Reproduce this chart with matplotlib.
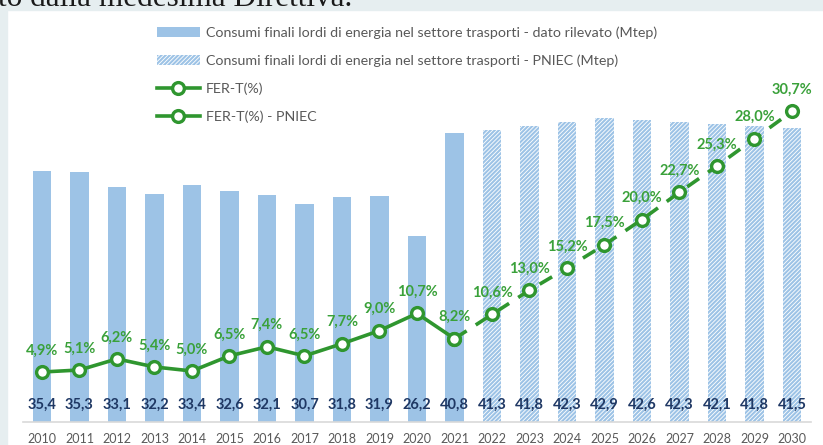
import matplotlib.pyplot as plt
import matplotlib.patches as mpatches
from matplotlib.lines import Line2D
import numpy as np

plt.rcParams['font.family'] = ['Lato', 'DejaVu Sans']
plt.rcParams['hatch.linewidth'] = 1.5

anni = [str(a) for a in range(2010, 2031)]
consumi = [35.4, 35.3, 33.1, 32.2, 33.4, 32.6, 32.1, 30.7, 31.8, 31.9, 26.2, 40.8,
           41.3, 41.8, 42.3, 42.9, 42.6, 42.3, 42.1, 41.8, 41.5]
n_rilevati = 12
fer_t = [4.9, 5.1, 6.2, 5.4, 5.0, 6.5, 7.4, 6.5, 7.7, 9.0, 10.7, 8.2]
fer_t_pniec = [10.6, 13.0, 15.2, 17.5, 20.0, 22.7, 25.3, 28.0, 30.7]

blu = '#9dc3e6'
verde = '#2f962f'
verde_lab = '#3aa13a'
navy = '#1f3864'
grigio = '#595959'
tratteggio = '////////'

W, H = 823, 445
fig = plt.figure(figsize=(W / 100, H / 100), dpi=100)
fig.patch.set_facecolor('white')

# cornice grigia (parte di pagina tagliata)
fig.patches.append(mpatches.Rectangle((0, 1 - 10 / H), 1, 10 / H, transform=fig.transFigure,
                                      color='#e6eef0', zorder=0))
fig.patches.append(mpatches.Rectangle((0, 0), 7 / W, 1, transform=fig.transFigure,
                                      color='#e6eef0', zorder=0))
fig.text(-2 / W, 1 - 6 / H, 'to dalla medesima Direttiva.', family='Liberation Serif',
         fontsize=22.5, color='#1a1a1a', va='baseline', ha='left')

ax = fig.add_axes([23.25 / W, (H - 421.5) / H, 787.5 / W, 353.5 / H])
ax.set_facecolor('none')
x = np.arange(len(anni))

ax.bar(x[:n_rilevati], consumi[:n_rilevati], width=0.5, color=blu, zorder=2)
ax.bar(x[n_rilevati:], consumi[n_rilevati:], width=0.5, color='white', edgecolor=blu,
       hatch=tratteggio, linewidth=0, zorder=2)

for xi, v in zip(x, consumi):
    ax.text(xi, 2.3, f'{v:.1f}'.replace('.', ','), ha='center', va='center',
            fontsize=10.5, fontweight='bold', color=navy, zorder=5)

ax.set_xlim(-0.5, len(anni) - 0.5)
ax.set_ylim(0, 50)
ax.set_xticks(x)
ax.set_xticklabels(anni, fontsize=9, color=grigio)
ax.tick_params(axis='x', length=0, pad=8)
ax.set_yticks([])
for s in ['top', 'right', 'left']:
    ax.spines[s].set_visible(False)
ax.spines['bottom'].set_color('#d9d9d9')
ax.spines['bottom'].set_linewidth(1.2)

ax2 = ax.twinx()
ax2.set_ylim(0, 35)
ax2.set_yticks([])
for s in ax2.spines.values():
    s.set_visible(False)

mk = dict(marker='o', markersize=8.5, markerfacecolor='white', markeredgecolor=verde,
          markeredgewidth=2.4)
x_p = x[n_rilevati - 1:]
y_p = [fer_t[-1]] + fer_t_pniec
ax2.plot(x_p, y_p, color=verde, linewidth=2.6, dashes=(4, 3), zorder=3, **mk)
ax2.plot(x[:n_rilevati], fer_t, color=verde, linewidth=2.6, zorder=4, **mk)

for xi, v in list(zip(x[:n_rilevati], fer_t)) + list(zip(x[n_rilevati:], fer_t_pniec)):
    ax2.annotate(f'{v:.1f}%'.replace('.', ','), (xi, v), xytext=(0, 15.5),
                 textcoords='offset points', ha='center', va='center',
                 fontsize=10.5, fontweight='bold', color=verde_lab, zorder=6)

handles = [
    mpatches.Patch(facecolor=blu, edgecolor='none'),
    mpatches.Patch(facecolor='white', edgecolor=blu, hatch=tratteggio, linewidth=0),
    Line2D([], [], color=verde, linewidth=2.6, **mk),
    Line2D([], [], color=verde, linewidth=2.6, **mk),
]
labels = [
    'Consumi finali lordi di energia nel settore trasporti - dato rilevato (Mtep)',
    'Consumi finali lordi di energia nel settore trasporti - PNIEC (Mtep)',
    'FER-T(%)',
    'FER-T(%) - PNIEC',
]
leg = fig.legend(handles, labels, loc='upper left', bbox_to_anchor=(157 / W, 1 - 26 / H),
                 frameon=False, fontsize=10.3, labelcolor=grigio, handlelength=3.0,
                 handleheight=0.7, handletextpad=0.4, labelspacing=1.08,
                 borderpad=0, borderaxespad=0)

fig.savefig('out.png', dpi=100)
